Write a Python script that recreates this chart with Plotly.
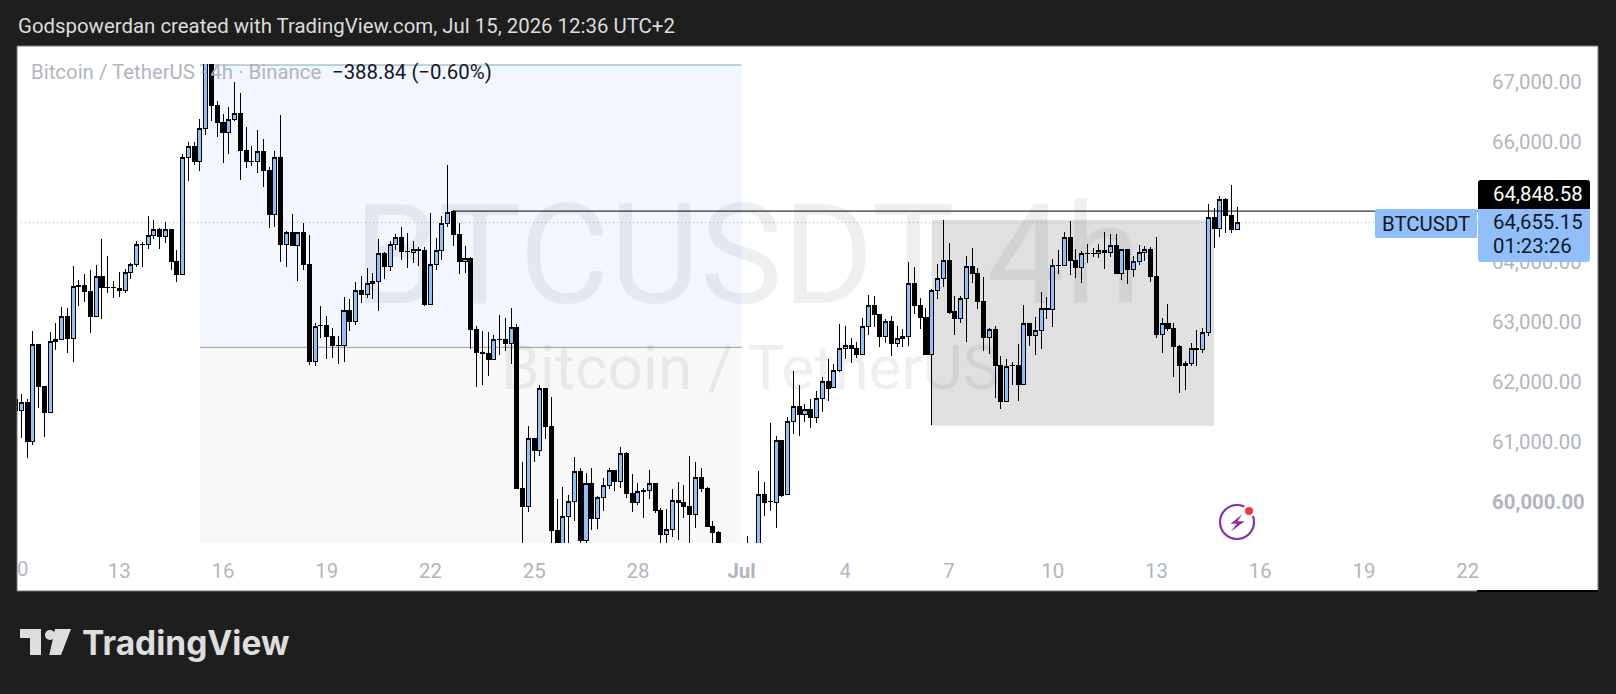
import pandas as pd
import plotly.graph_objects as go

wick_high = [
61755,61800,61711,62850,62627,61922,62827,62977,63255,63228,
63933,63700,63800,63867,63950,64378,64100,63678,63828,63878,
63989,64350,64339,64766,64700,64561,64661,64544,64200,65794,
66000,66000,66383,67533,67533,66683,66467,66583,67000,66811,
66244,65933,66200,66050,65578,65844,66450,64522,64800,64494,
64650,64444,62989,63267,63100,62894,62767,63416,63378,63661,
63766,63900,63822,64383,64172,64344,64466,64577,64477,64344,
64255,64255,64811,64394,64766,65616,64861,64644,64261,64077,
62933,62850,62838,62777,63116,63072,63233,62966,60672,61266,
61061,61944,61894,61755,60050,60255,60116,60744,60561,60488,
60561,60100,60400,60561,60522,60911,60827,60461,60311,60227,
60533,60311,59905,59877,60211,60327,60288,60766,60666,60566,
60250,59677,59522,59200,59150,59100,59250,59433,59280,60516,
60333,61322,61099,61027,61422,62183,61950,61633,61711,61850,
62089,62383,62294,62966,62933,62733,62666,63061,63444,63433,
63127,63050,63100,62933,62883,63994,63911,63394,63233,63555,
63966,64699,64311,63433,63433,64094,64227,63894,63744,62899,
62933,62433,62383,62333,62633,63283,62977,63088,63500,63416,
64049,64199,64505,64683,64216,64183,64299,64227,64299,64500,
64466,64461,64211,64211,64099,64283,64266,64244,64416,63061,
63294,62977,62611,62344,62644,62861,62905,64966,64894,65100,
65061,65283,64911]

body_high = [
61711,61661,61661,62627,62627,61922,62672,62711,63089,63089,
63589,63611,63611,63505,63755,63755,63583,63578,63561,63828,
63961,64294,64300,64444,64544,64544,64544,64544,64005,65744,
65922,65922,66228,67422,67422,66605,66322,66378,66478,66478,
65855,65678,65844,65844,65533,65744,65744,64494,64494,64494,
64494,63955,62922,62950,62944,62761,62616,63194,63194,63522,
63522,63644,63672,64144,64144,64294,64411,64411,64183,64211,
64211,64200,63961,64194,64644,64827,64838,64461,64061,64061,
62877,62500,62477,62711,62716,62711,62911,62911,60227,61061,
61061,61894,61894,61261,59522,59755,60005,60511,60511,60311,
60311,60077,60277,60522,60522,60811,60811,60144,60172,60200,
60311,60311,59855,59544,60027,60027,59988,59922,60411,60411,
60227,59588,59488,59140,58950,58950,59050,59100,59200,60133,
60133,60016,61027,61027,61344,61594,61594,61544,61544,61722,
62011,62011,62199,62561,62611,62611,62561,62928,63277,63277,
63127,63005,63011,62727,62761,63644,63644,63277,63083,63527,
63727,64027,64027,63177,63388,63922,63927,63811,63344,62877,
62877,62277,62261,62283,62277,62977,62977,62861,63227,63227,
63944,63950,64411,64411,64027,64144,64149,64149,64194,64199,
64277,64277,64211,64211,64011,64161,64211,64211,63761,62977,
62977,62894,62594,62311,62561,62561,62822,64744,64744,65044,
65044,64777,64655]

body_low = [
61522,61522,61005,61005,61922,61494,61494,62672,62711,62727,
62727,63589,63505,63089,63089,63572,63572,63567,63528,63528,
63828,63961,64289,64294,64444,64422,64422,64005,63794,63794,
65744,65678,65678,66228,66605,66322,66155,66155,66378,65855,
65672,65667,65678,65522,64789,64789,64289,64289,64272,64272,
63955,62339,62339,62939,62755,62605,62605,62605,63005,63005,
63455,63455,63639,63677,63922,63922,64294,64172,64172,64155,
64188,63288,63288,63961,64194,64644,64455,64005,64005,62877,
62488,62472,62372,62372,62705,62638,62638,60222,59922,59922,
60855,60855,61255,59522,59144,59144,59755,60005,59366,59366,
59722,59722,60077,60277,60338,60338,60144,59988,59988,60172,
60188,59855,59461,59461,59544,59994,59922,59788,59788,60222,
59588,59488,59144,58950,58750,58750,58950,58950,59050,59100,
59988,60005,59988,60116,60122,61344,61455,61455,61405,61405,
61722,61900,61905,62194,62555,62555,62455,62455,62928,63127,
62755,62755,62638,62638,62722,62761,63272,63072,62461,62461,
63527,63727,63166,63061,63061,63394,63805,63338,62738,62738,
62272,61677,61677,62272,61955,61961,62772,62772,62861,63211,
63211,63938,63944,64027,63905,63905,64138,64138,64144,64155,
64155,63805,63805,63877,63877,64011,64161,63755,62788,62788,
62888,62588,62272,62272,62305,62550,62538,62822,64555,64555,
64772,64538,64538]

wick_low = [
61422,61072,60738,60950,61572,61089,61494,62533,62711,62489,
62339,63272,63339,62822,63089,63044,63478,63405,63422,63489,
63722,63922,63922,64222,64389,64217,64322,63867,63672,63794,
65355,65611,65522,66117,66350,66089,65655,65805,66355,65367,
65572,65600,65489,65255,64572,64589,64005,63922,64272,63689,
63867,62283,62272,62739,62389,62405,62305,62339,62855,62950,
63322,63405,63378,63188,63722,63855,64200,64033,63905,63977,
63933,63272,63288,63866,64033,64589,64266,63800,63822,62550,
61922,61950,62100,62372,62450,62522,62300,60222,59200,59838,
60672,60766,61044,59200,59033,59033,59144,59688,59283,59283,
59533,59555,59850,60222,60183,60227,60072,59838,59950,59738,
60055,59811,59283,59200,59422,59366,59727,59172,59561,60172,
59588,59283,59033,58850,58650,58600,58850,58850,58900,59000,
59766,59855,59572,60088,60122,61133,61105,61333,61233,61322,
61500,61688,61905,62166,62388,62322,62399,62455,62783,62916,
62588,62650,62438,62588,62588,62605,63133,62883,62461,61288,
63388,63583,63138,62788,62988,62672,63644,63222,62522,62472,
61738,61544,61677,61949,61688,61961,62605,62449,62550,63055,
62922,63805,63944,63783,63738,63655,63988,64088,64061,63888,
64088,63805,63699,63638,63755,63955,64016,63672,62738,62488,
62849,62088,61822,61872,62272,62266,62488,62772,64238,64422,
64488,64488,64538]

direction = (
"d u d u d d u u u d "
"u d d d u d d d d u "
"u u d u u d u d d u "
"u d u u d d d u u d "
"d d u d d u d u d u "
"d d u d d d d u d u "
"d u u u d u u d d u "
"d d u u u u d d u d "
"d d d u d d u d d u "
"d u d d d u u u d u "
"d u u u d u d d u d "
"u d d u u d d d u d "
"d d d d d u d d u u "
"d d u d u u d u d u "
"u d u u u d d u u d "
"d u d u u u d d d u "
"u u d d u u d d d u "
"d d u d d u d u u d "
"u d u d d u d d u d "
"u d u d u u u d d u "
"d d d u u d u u d u "
"d d u").split()

assert len(wick_high) == len(body_high) == len(body_low) == len(wick_low) == len(direction) == 213

open_ = [l if s == "u" else h for h, l, s in zip(body_high, body_low, direction)]
close = [h if s == "u" else l for h, l, s in zip(body_high, body_low, direction)]
times = pd.date_range("2026-06-10 00:00", periods=213, freq="4h")

price_ticks = [60000, 61000, 62000, 63000, 64000, 65000, 66000, 67000]
price_labels = ["<b>60,000.00</b>", "61,000.00", "62,000.00", "63,000.00",
                "64,000.00", "65,000.00", "66,000.00", "67,000.00"]
date_ticks = ["2026-06-13", "2026-06-16", "2026-06-19", "2026-06-22", "2026-06-25",
              "2026-06-28", "2026-07-01", "2026-07-04", "2026-07-07", "2026-07-10",
              "2026-07-13", "2026-07-16", "2026-07-19", "2026-07-22"]
date_labels = ["13", "16", "19", "22", "25", "28", "<b>Jul</b>", "4", "7", "10", "13", "16", "19", "22"]

last_price = 64655.15
level_price = 64848.58

X_RANGE = ["2026-06-10 01:00", "2026-07-22 07:12"]
Y_RANGE = [59317, 67300]
FONT = "Roboto"
FS = 20.4
GREY = "#b2b5be"
BLUE = "#90bff9"
DARK = "#1e1e1e"
INK = "#131722"

L, R, T, B = 17, 1478, 64, 543
fx = lambda px: (px - L) / (R - L)
fy = lambda py: (B - py) / (B - T)


def pbox(x0, y0, x1, y1, fill, line=None, lw=0, layer="above"):
    return dict(type="rect", xref="paper", yref="paper", x0=fx(x0), x1=fx(x1), y0=fy(y0), y1=fy(y1),
                fillcolor=fill, line=dict(color=line or fill, width=lw), layer=layer)


def ptag(x0, y0, x1, y1, fill, corners, r=3):
    """Rectangle with the named corners rounded: any of tl, tr, br, bl."""
    rt, rr, rb, rl = [r if c in corners else 0 for c in ("tl", "tr", "br", "bl")]
    P = lambda a, b: f"{fx(a):.5f},{fy(b):.5f}"
    path = (f"M {P(x0 + rt, y0)} L {P(x1 - rr, y0)} Q {P(x1, y0)} {P(x1, y0 + rr)} "
            f"L {P(x1, y1 - rb)} Q {P(x1, y1)} {P(x1 - rb, y1)} "
            f"L {P(x0 + rl, y1)} Q {P(x0, y1)} {P(x0, y1 - rl)} "
            f"L {P(x0, y0 + rt)} Q {P(x0, y0)} {P(x0 + rt, y0)} Z")
    return dict(type="path", xref="paper", yref="paper", path=path, fillcolor=fill,
                line=dict(width=0), layer="above")


def ppoly(points, fill, layer="above"):
    path = "M " + " L ".join(f"{fx(a):.5f},{fy(b):.5f}" for a, b in points) + " Z"
    return dict(type="path", xref="paper", yref="paper", path=path, fillcolor=fill,
                line=dict(width=0), layer=layer)


def pcircle(cx, cy, r, fill="rgba(0,0,0,0)", line=None, lw=0, layer="above"):
    return dict(type="circle", xref="paper", yref="paper", x0=fx(cx - r), x1=fx(cx + r),
                y0=fy(cy + r), y1=fy(cy - r), fillcolor=fill,
                line=dict(color=line or fill, width=lw), layer=layer)


def note(text, px, py, color, size=FS, anchor="left", **font):
    return dict(text=text, xref="paper", yref="paper", x=fx(px), y=fy(py), showarrow=False,
                xanchor=anchor, yanchor="middle", borderpad=0,
                font=dict(family=font.pop("family", FONT), size=size, color=color, **font))


shapes = [
    pbox(17, 46, 1598, 591, "#ffffff", "#777777", 1, "below"),
    # long-position tool
    dict(type="rect", xref="x", yref="y", x0="2026-06-15 08:00", x1="2026-07-01 00:00", y0=62578, y1=67283,
         fillcolor="#f2f7ff", line=dict(width=0), layer="below"),
    dict(type="rect", xref="x", yref="y", x0="2026-06-15 08:00", x1="2026-07-01 00:00", y0=59200, y1=62578,
         fillcolor="#f8f8f8", line=dict(width=0), layer="below"),
    dict(type="line", xref="x", yref="y", x0="2026-06-15 08:00", x1="2026-07-01 00:00", y0=67283, y1=67283,
         line=dict(color="#7fa6c4", width=1), layer="below"),
    dict(type="line", xref="x", yref="y", x0="2026-06-15 08:00", x1="2026-07-01 00:00", y0=62578, y1=62578,
         line=dict(color="#9a9a9a", width=1), layer="below"),
    # grey rectangle
    dict(type="rect", xref="x", yref="y", x0="2026-07-06 12:00", x1="2026-07-14 16:00", y0=61272, y1=64700,
         fillcolor="#e0e0e0", line=dict(width=0), layer="below"),
    # last-price dotted line
    dict(type="line", xref="x", yref="y", x0=X_RANGE[0], x1=X_RANGE[1], y0=last_price, y1=last_price,
         line=dict(color="#9db4cc", width=1, dash="1px,3px"), layer="below"),
    # horizontal level
    dict(type="line", xref="x", yref="y", x0="2026-06-22 16:00", x1=X_RANGE[1], y0=level_price, y1=level_price,
         line=dict(color="#000000", width=1), layer="above"),
    # frame, bottom right
    pbox(1477, 590, 1598, 592, "#000000"),
    # price tags
    ptag(1478, 180, 1590, 209, "#000000", ("tl", "tr")),
    ptag(1478, 209, 1590, 262, BLUE, ("br", "bl")),
    ptag(1375, 209, 1477, 238, BLUE, ("tl", "bl")),
    # flash icon
    pcircle(1237, 522, 17, line="#8e2da8", lw=2.2),
    pcircle(1249, 511, 6.5, fill="#ffffff"),
    pcircle(1249, 511, 4, fill="#f23645"),
    ppoly([(1242.5, 514), (1230.5, 523.7), (1236.7, 523.7), (1231, 531.5), (1244.5, 521.3), (1237.5, 521.3)], "#8e2da8"),
    # logo
    ppoly([(20, 629), (41, 629), (41, 655), (30, 655), (30, 638), (20, 638)], "#dedede", "below"),
    pcircle(50, 635, 5, fill="#dedede", layer="below"),
    ppoly([(55, 629), (71, 629), (61, 655), (49.3, 655)], "#dedede", "below"),
]

annotations = [
    note("Godspowerdan created with TradingView.com, Jul 15, 2026 12:36 UTC+2", 17, 26, "#dcdcdc"),
    note("Bitcoin / TetherUS · 4h · Binance", 30, 72, GREY),
    note("−388.84 (−0.60%)", 331, 72, "#131722"),
    note("0", 16, 569, GREY),
    note("64,848.58", 1492, 194, "#ffffff"),
    note("64,655.15", 1492, 222, INK),
    note("01:23:26", 1492, 246, INK),
    note("BTCUSDT", 1425.5, 223.5, INK, anchor="center"),
    note("TradingView", 81, 643, "#dedede", size=33.5, family="Inter", weight=700),
]

fig = go.Figure()
fig.add_trace(go.Scatter(
    x=["2026-07-01 04:00", "2026-07-01 06:00"], y=[63890, 62146],
    text=["BTCUSDT 4h", "Bitcoin / TetherUS"], mode="text", textposition="middle center",
    textfont=dict(family=FONT, size=[139, 62], color="rgba(40,45,60,0.08)"),
    hoverinfo="skip", showlegend=False, xaxis="x", yaxis="y",
))
fig.add_trace(go.Candlestick(
    x=times, open=open_, high=wick_high, low=wick_low, close=close,
    increasing=dict(fillcolor=BLUE, line=dict(color="#000000", width=1)),
    decreasing=dict(fillcolor="#000000", line=dict(color="#000000", width=1)),
    whiskerwidth=0, hoverinfo="skip", showlegend=False, xaxis="x2", yaxis="y2",
))

fig.update_layout(
    width=1616, height=694,
    margin=dict(l=L, r=1616 - R, t=T, b=694 - B, pad=0, autoexpand=False),
    paper_bgcolor=DARK, plot_bgcolor="rgba(0,0,0,0)",
    font=dict(family=FONT, size=FS, color=GREY),
    showlegend=False, shapes=shapes, annotations=annotations, hovermode=False,
    boxgap=0.1, boxgroupgap=0.22,
    xaxis=dict(type="date", range=X_RANGE, tickmode="array", tickvals=date_ticks, ticktext=date_labels,
               showgrid=False, zeroline=False, showline=False, ticks="", ticklabelstandoff=14,
               tickfont=dict(family=FONT, size=FS, color=GREY), rangeslider=dict(visible=False)),
    yaxis=dict(range=Y_RANGE, side="right", tickmode="array", tickvals=price_ticks, ticktext=price_labels,
               showgrid=False, zeroline=False, showline=False, ticks="", ticklabelstandoff=13,
               tickfont=dict(family=FONT, size=FS, color=GREY)),
    xaxis2=dict(type="date", range=X_RANGE, overlaying="x", visible=False, rangeslider=dict(visible=False)),
    yaxis2=dict(range=Y_RANGE, overlaying="y", side="right", visible=False),
)

fig.write_html("out.html", config=dict(displayModeBar=False),
               post_script="document.body.style.margin='0';document.body.style.overflow='hidden';"
                           "var s=document.createElement('style');"
                           "s.textContent='.boxlayer path{shape-rendering:crispEdges}';"
                           "document.head.appendChild(s);")
